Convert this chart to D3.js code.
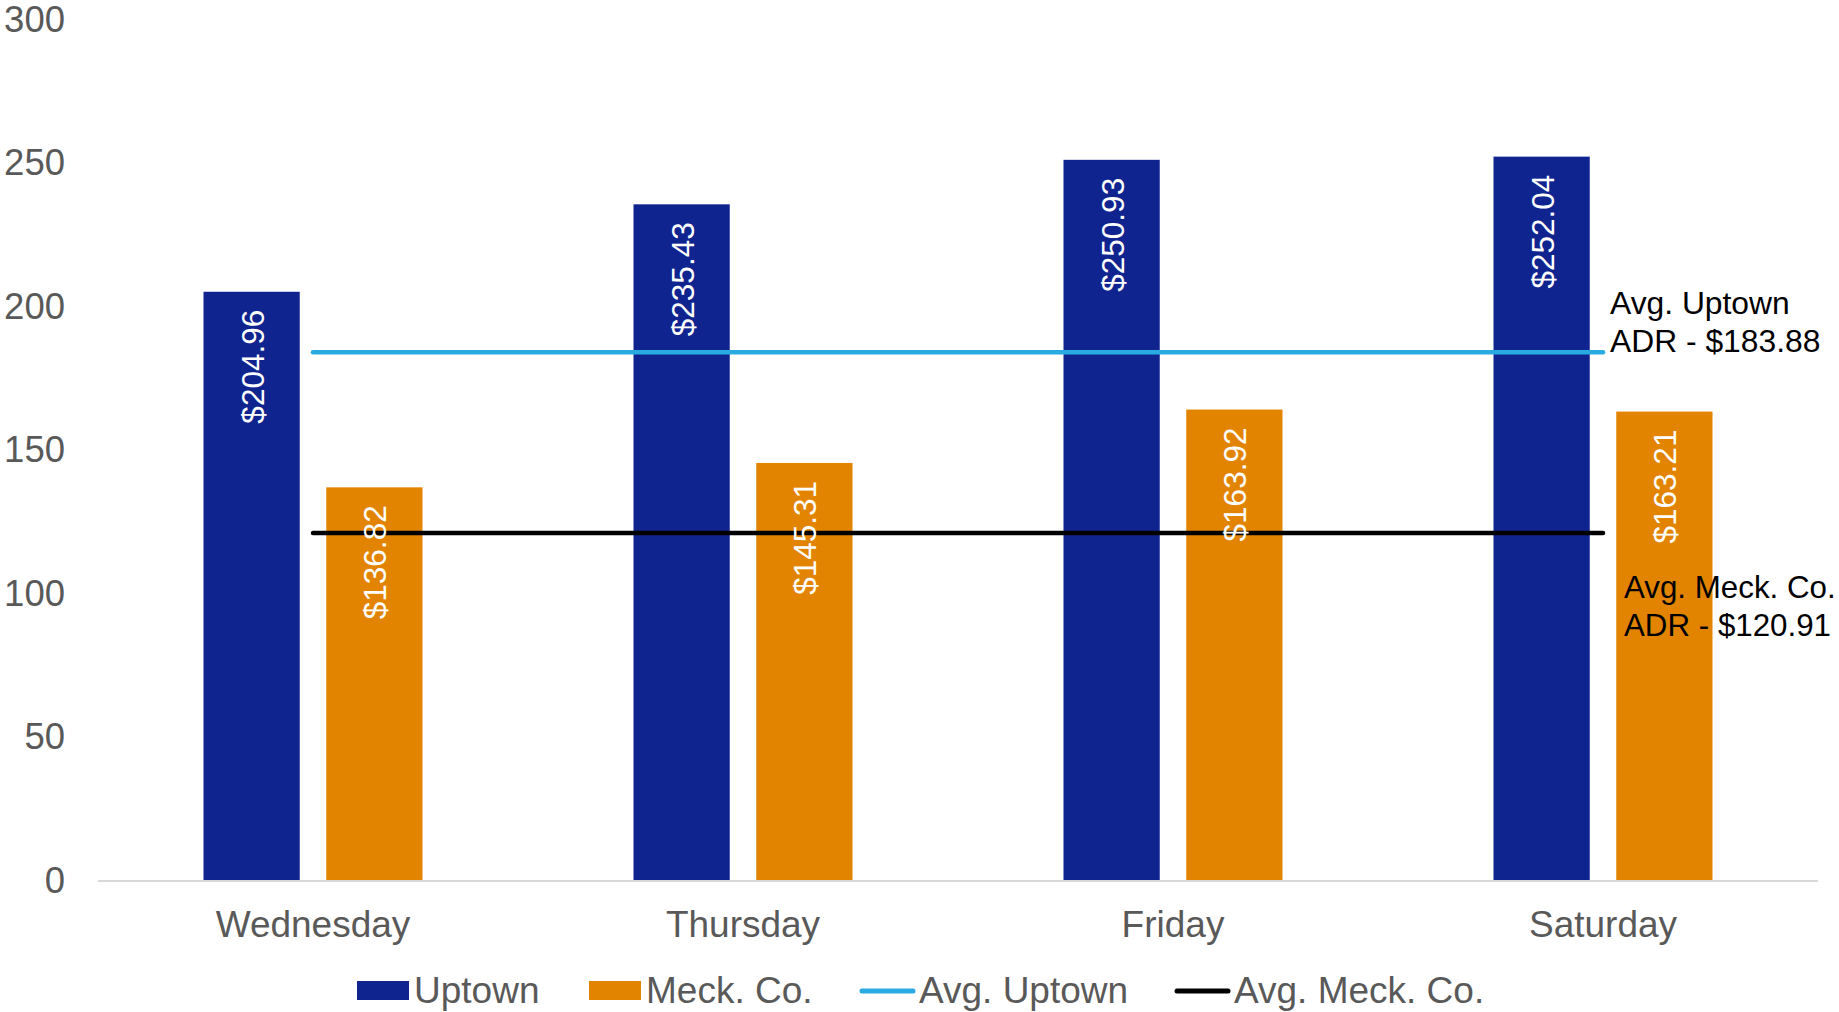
<!DOCTYPE html>
<html>
<head>
<meta charset="utf-8">
<script src="https://cdn.jsdelivr.net/npm/d3@7"></script>
<style>
  html, body { margin: 0; padding: 0; background: #fff; }
  svg { display: block; }
  text { font-family: "Liberation Sans", Arial, sans-serif; }
</style>
</head>
<body>
<svg id="chart" width="1839" height="1012"></svg>
<script>
// ---- Data ----
const categories = ["Wednesday", "Thursday", "Friday", "Saturday"];
const seriesNames = ["Uptown", "Meck. Co."];
const uptownValues = [204.96, 235.43, 250.93, 252.04];
const meckValues = [136.82, 145.31, 163.92, 163.21];
const avgUptown = 183.88;
const avgMeck = 120.91;
const yTicks = [0, 50, 100, 150, 200, 250, 300];
const legendLabels = ["Uptown", "Meck. Co.", "Avg. Uptown", "Avg. Meck. Co."];
const annotationUptown = ["Avg. Uptown", "ADR - $183.88"];
const annotationMeck = ["Avg. Meck. Co.", "ADR - $120.91"];

// ---- Styles ----
const colUptown = "#10248F";
const colMeck = "#E38400";
const colAvgUptown = "#29ABE2";
const colAvgMeck = "#000000";
const axisText = "#595959";

const svg = d3.select("#chart");

const plotLeft = 98, plotRight = 1818, plotTop = 19, plotBottom = 880;

const x0 = d3.scaleBand().domain(categories).range([plotLeft, plotRight]).padding(0);
const groupW = 219;
const x1 = d3.scaleBand().domain(seriesNames).range([0, groupW]).paddingInner(0.216).paddingOuter(0);
const y = d3.scaleLinear().domain([0, 300]).range([plotBottom, plotTop]);

const groupStart = c => x0(c) + x0.bandwidth() / 2 - groupW / 2;
const center = c => x0(c) + x0.bandwidth() / 2;

// y tick labels
svg.append("g").selectAll("text").data(yTicks).join("text")
  .attr("x", 65).attr("y", d => y(d)).attr("dy", "0.35em")
  .attr("text-anchor", "end").attr("fill", axisText)
  .style("font-size", "36.5px")
  .text(d => d);

const barData = [];
categories.forEach((c, i) => {
  barData.push({ cat: c, s: "Uptown", v: uptownValues[i], color: colUptown });
  barData.push({ cat: c, s: "Meck. Co.", v: meckValues[i], color: colMeck });
});

// bars
svg.append("g").selectAll("rect").data(barData).join("rect")
  .attr("x", d => groupStart(d.cat) + x1(d.s))
  .attr("width", x1.bandwidth())
  .attr("y", d => y(d.v))
  .attr("height", d => y(0) - y(d.v))
  .attr("fill", d => d.color);

// baseline
svg.append("line")
  .attr("x1", plotLeft).attr("x2", plotRight)
  .attr("y1", y(0) + 1).attr("y2", y(0) + 1)
  .attr("stroke", "#D9D9D9").attr("stroke-width", 2);

// category labels
svg.append("g").selectAll("text").data(categories).join("text")
  .attr("x", d => center(d)).attr("y", y(0) + 57)
  .attr("text-anchor", "middle").attr("fill", axisText)
  .style("font-size", "37px")
  .text(d => d);

// average lines
[[avgUptown, colAvgUptown], [avgMeck, colAvgMeck]].forEach(([v, col]) => {
  svg.append("line")
    .attr("x1", center(categories[0])).attr("x2", center(categories[categories.length - 1]))
    .attr("y1", y(v)).attr("y2", y(v))
    .attr("stroke", col).attr("stroke-width", 4.5).attr("stroke-linecap", "round");
});

// bar value labels (rotated)
svg.append("g").selectAll("text").data(barData).join("text")
  .attr("transform", d => {
    const cx = groupStart(d.cat) + x1(d.s) + x1.bandwidth() / 2 + 1;
    const ty = y(d.v) + 18;
    return `translate(${cx},${ty}) rotate(-90)`;
  })
  .attr("text-anchor", "end").attr("dy", "0.35em")
  .attr("fill", "#ffffff")
  .style("font-size", "31.5px")
  .text(d => "$" + d.v.toFixed(2));

// annotations
svg.append("text")
  .attr("x", 1610).attr("y", y(avgUptown) - 38)
  .attr("fill", "#000").style("font-size", "31.8px")
  .selectAll("tspan").data(annotationUptown).join("tspan")
  .attr("x", 1610).attr("dy", (d, i) => i === 0 ? 0 : 37.7)
  .text(d => d);

svg.append("text")
  .attr("x", 1624).attr("y", y(avgMeck) + 64.7)
  .attr("fill", "#000").style("font-size", "31.3px")
  .selectAll("tspan").data(annotationMeck).join("tspan")
  .attr("x", 1624).attr("dy", (d, i) => i === 0 ? 0 : 38)
  .text(d => d);

// legend
const legendY = 991;
const leg = svg.append("g");
const legendItems = [
  { label: legendLabels[0], type: "rect", color: colUptown, x: 357 },
  { label: legendLabels[1], type: "rect", color: colMeck, x: 589 },
  { label: legendLabels[2], type: "line", color: colAvgUptown, x: 862 },
  { label: legendLabels[3], type: "line", color: colAvgMeck, x: 1177 }
];
legendItems.forEach(it => {
  if (it.type === "rect") {
    leg.append("rect").attr("x", it.x).attr("y", legendY - 10)
      .attr("width", 52).attr("height", 19).attr("fill", it.color);
  } else {
    leg.append("line").attr("x1", it.x).attr("x2", it.x + 51)
      .attr("y1", legendY).attr("y2", legendY)
      .attr("stroke", it.color).attr("stroke-width", 5).attr("stroke-linecap", "round");
  }
  leg.append("text").attr("x", it.x + 57).attr("y", legendY + 12)
    .attr("fill", axisText).style("font-size", "37px")
    .text(it.label);
});
</script>
</body>
</html>
